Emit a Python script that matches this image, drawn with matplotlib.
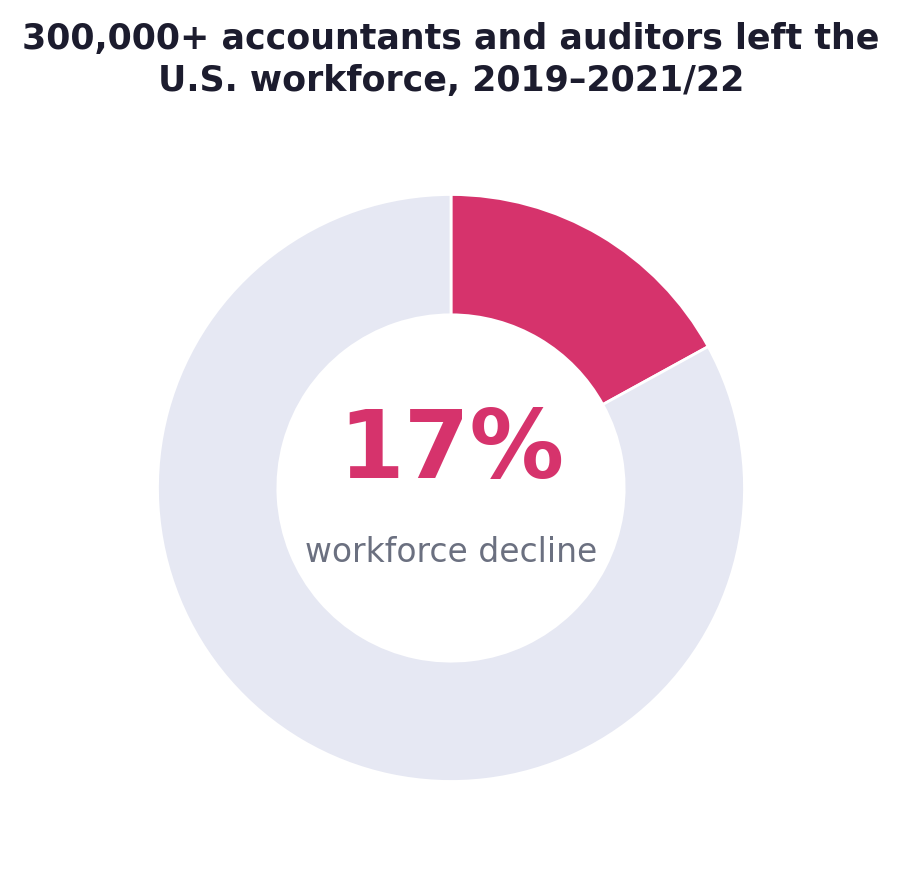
import matplotlib.pyplot as plt

labels = ['Left the workforce', 'Remaining']
shares = [17, 83]
colors = ['#D6336C', '#E6E8F3']

title = "300,000+ accountants and auditors left the\nU.S. workforce, 2019\u20132021/22"
center_value = "17%"
center_label = "workforce decline"

fig = plt.figure(figsize=(9.02, 8.79), dpi=100)
ax = fig.add_axes([0.1746, 0.1098, 0.6508, 0.6678])

ax.pie(shares, colors=colors, startangle=90, counterclock=False,
       radius=1.0,
       wedgeprops=dict(width=0.41, edgecolor='white', linewidth=2))
ax.set_xlim(-1, 1)
ax.set_ylim(-1, 1)
ax.set_aspect('equal')
ax.axis('off')

ax.text(0, 0.127, center_value, ha='center', va='center',
        fontsize=68, fontweight='bold', color='#D6336C')
ax.text(0, -0.215, center_label, ha='center', va='center',
        fontsize=23.7, color='#6B7080')

fig.text(0.5, 0.932, title, ha='center', va='center',
         fontsize=25.1, fontweight='bold', color='#1C1C2E', linespacing=1.3)

fig.savefig('out.png', dpi=100)
